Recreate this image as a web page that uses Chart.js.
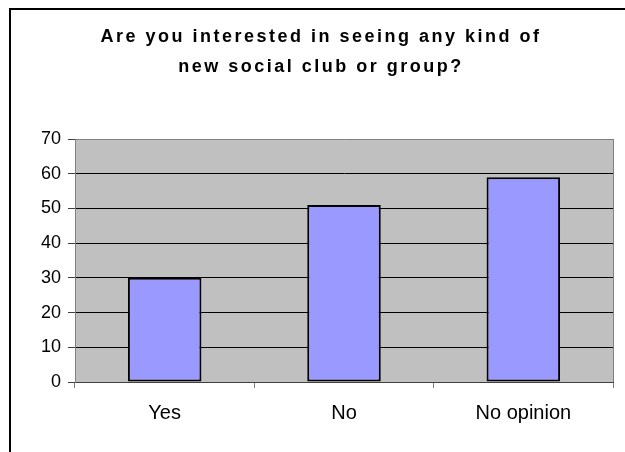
<!DOCTYPE html>
<html>
<head>
<meta charset="utf-8">
<script src="https://cdn.jsdelivr.net/npm/chart.js@4.4.1/dist/chart.umd.min.js"></script>
<style>
  html,body{margin:0;padding:0;background:#fff;overflow:hidden}
  #wrap{position:relative;width:625px;height:452px}
  #frame{position:absolute;left:9px;top:8px;width:700px;height:500px;
    border-left:2px solid #000;border-top:2px solid #000;pointer-events:none}
</style>
</head>
<body>
<div id="wrap">
  <canvas id="c" width="625" height="452"></canvas>
  <div id="frame"></div>
</div>
<script>
// survey answers
const TITLE = ["Are you interested in seeing any kind of", "new social club or group?"];
const CATEGORIES = ["Yes", "No", "No opinion"];
const COUNTS = [30, 51, 59];
const Y_MAX = 70, Y_STEP = 10;

const FONT = "'Liberation Sans', Arial, sans-serif";
const PLOT_BG = "#c0c0c0", BAR_FILL = "#9999ff", EDGE = "#808080";

// gray plot area + right-hand border, Excel style
const plotArea = {
  id: "plotArea",
  beforeDraw(chart) {
    const { ctx, chartArea: a } = chart;
    ctx.save();
    ctx.fillStyle = PLOT_BG;
    ctx.fillRect(a.left, a.top, a.right - a.left, a.bottom - a.top);
    ctx.restore();
    // spaced-out title lettering
    const tb = chart.titleBlock;
    if (tb && !tb._spaced) {
      const orig = tb.draw;
      tb.draw = function () {
        const c = this.ctx || chart.ctx;
        c.save(); c.letterSpacing = "2.5px";
        orig.apply(this, arguments);
        c.restore();
      };
      tb._spaced = true;
    }
  },
  beforeDatasetsDraw(chart) {
    const { ctx, chartArea: a } = chart;
    ctx.save();
    ctx.strokeStyle = EDGE; ctx.lineWidth = 1;
    ctx.beginPath();
    ctx.moveTo(a.right + 0.5, a.top); ctx.lineTo(a.right + 0.5, a.bottom);
    ctx.stroke();
    ctx.restore();
  },
};

new Chart(document.getElementById("c"), {
  type: "bar",
  data: {
    labels: CATEGORIES,
    datasets: [{
      data: COUNTS,
      backgroundColor: BAR_FILL,
      borderColor: "#000",
      borderWidth: 2,
      borderSkipped: false,
      barPercentage: 0.41,
      categoryPercentage: 1,
    }],
  },
  options: {
    responsive: false,
    animation: false,
    events: [],
    layout: { padding: { left: 29, right: 12, top: 0, bottom: 0 } },
    plugins: {
      legend: { display: false },
      tooltip: { enabled: false },
      title: {
        display: true,
        text: TITLE,
        color: "#000",
        font: { family: FONT, size: 18, weight: "bold", lineHeight: 1.667 },
        padding: { top: 22, bottom: 57 },
      },
    },
    scales: {
      x: {
        offset: true,
        grid: { offset: true, drawOnChartArea: false, drawTicks: true, tickLength: 6, tickColor: EDGE },
        border: { color: "#404040", width: 1 },
        ticks: { color: "#000", font: { family: FONT, size: 20 }, padding: 13, maxRotation: 0 },
        afterFit(s) { s.height = 70; },
      },
      y: {
        min: 0, max: Y_MAX,
        grid: {
          color: c => (c.tick && c.tick.value === Y_MAX) ? EDGE : "#000",
          tickColor: "#404040",
          tickLength: 7,
        },
        border: { color: EDGE, width: 1 },
        ticks: { stepSize: Y_STEP, color: "#000", font: { family: FONT, size: 18 }, padding: 7 },
        afterFit(s) { s.width = 46; },
      },
    },
  },
  plugins: [plotArea],
});
</script>
</body>
</html>
